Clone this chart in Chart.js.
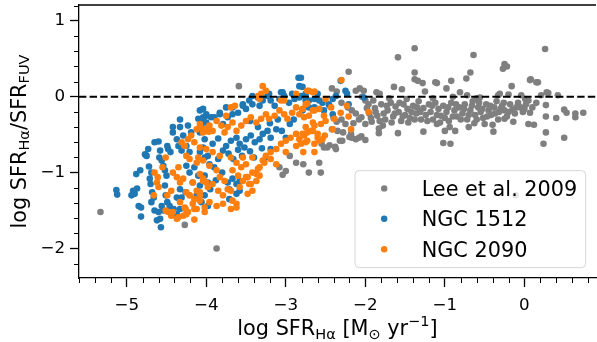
<!DOCTYPE html>
<html><head><meta charset="utf-8">
<script src="https://cdn.jsdelivr.net/npm/chart.js@4/dist/chart.umd.min.js"></script>
<style>
html,body{margin:0;padding:0;overflow:hidden;background:#fff;}
#wrap{position:relative;width:600px;height:342px;}
</style></head><body>
<div id="wrap"><canvas id="c"></canvas></div>
<script>
// ---- data (log SFR_Halpha, log SFR_Halpha/SFR_FUV) ----
const lee09 = [
[-5.33,-1.52],[-4.27,-1.69],[-3.87,-2.0],[-3.59,0.14],
[-3.08,-0.93],[-3.04,-1.03],[-3.0,-0.98],[-2.95,-0.78],[-2.87,-0.87],[-2.78,-0.89],[-2.71,-1.0],[-2.58,-0.87],[-2.56,-1.0],[-2.52,-0.67],[-2.37,-0.69],[-2.29,-0.58],[-2.18,-0.49],
[-1.38,0.64],[-1.59,0.52],[-2.21,0.33],[-0.64,0.55],[0.26,0.63],[-0.25,0.43],[-0.27,0.37],[-0.22,0.40],[-0.68,0.32],[-0.73,0.24],[-1.38,0.32],[-1.38,0.23],[-1.34,0.21],[-1.28,0.18],[-1.12,0.19],[-0.92,0.21],[0.07,0.22],[0.15,0.19],[-0.98,0.11],[-1.10,0.18],[-1.64,0.13],[-2.07,0.11],[-2.02,0.08],[-2.42,0.11],[-2.36,0.07],[-2.12,0.08],[-1.86,0.06],[-1.82,0.04],[-1.54,0.10],[-1.25,0.07],[-0.81,0.06],[-0.72,0.02],[-0.33,0.02],[-0.20,0.03],[0.28,0.06],[-0.16,0.14],[0.08,0.23],[0.17,0.19],[0.21,0.02],[0.30,0.05],[0.42,0.02],[-0.56,-0.01],[-0.31,0.04],[-0.04,0.02],[0.01,-0.03],[-2.04,0.0],[-2.0,-0.05],[-1.96,-0.10],
[-2.45,-0.12],[-2.40,-0.28],[-2.36,-0.33],[-2.30,-0.30],[-2.25,-0.36],[-2.42,-0.43],[-2.35,-0.45],[-2.28,-0.47],[-2.20,-0.53],[-2.12,-0.56],[-2.05,-0.52],[-2.0,-0.57],[-2.55,-0.62],[-2.45,-0.64],[-2.38,-0.66],[-2.48,-0.67],[-2.32,-0.58],
[-2.17,-0.18],[-2.12,-0.22],[-2.08,-0.30],[-2.15,-0.35],[-2.05,-0.27],[-2.0,-0.36],[-1.95,-0.22],[-1.92,-0.33],[-1.88,-0.15],[-1.85,-0.25],[-1.80,-0.10],[-1.78,-0.38],[-1.83,-0.42],[-1.75,-0.30],[-1.72,-0.18],[-1.68,-0.08],[-1.65,-0.26],[-1.62,-0.13],[-1.58,-0.20],[-1.55,-0.32],[-1.52,-0.10],[-1.50,-0.24],[-1.47,-0.16],[-1.44,-0.28],[-1.40,-0.12],[-1.36,-0.22],[-1.33,-0.06],[-1.30,-0.30],[-1.27,-0.15],[-1.24,-0.24],[-1.20,-0.10],[-1.83,-0.48],[-1.59,-0.48],[-1.27,-0.46],[-2.17,-0.54],[-2.08,-0.54],[-1.90,-0.05],[-1.70,-0.02],[-1.48,-0.03],[-2.30,-0.08],[-2.22,-0.14],
[-1.18,-0.20],[-1.15,-0.30],[-1.12,-0.08],[-1.08,-0.16],[-1.05,-0.25],[-1.02,-0.12],[-0.98,-0.20],[-0.95,-0.32],[-0.92,-0.08],[-0.88,-0.18],[-0.85,-0.26],[-0.82,-0.14],[-0.78,-0.22],[-0.75,-0.10],[-0.72,-0.30],[-0.68,-0.18],[-0.65,-0.06],[-0.62,-0.24],[-0.58,-0.14],[-0.55,-0.20],[-0.52,-0.28],[-0.48,-0.10],[-0.45,-0.18],[-0.42,-0.24],[-0.38,-0.14],[-0.35,-0.06],[-0.32,-0.20],[-0.28,-0.12],[-0.25,-0.18],[-0.22,-0.26],[-0.18,-0.10],[-0.15,-0.17],[-0.12,-0.22],[-0.08,-0.08],[-0.05,-0.14],[-0.02,-0.20],[0.02,-0.10],[-0.14,-0.33],[-0.39,-0.46],[-0.50,-0.36],[-0.63,-0.35],[-1.02,-0.61],[-0.93,-0.62],[-0.87,-0.45],[-0.94,-0.40],[-1.0,-0.45],[-1.1,-0.36],[-0.70,-0.40],[-0.33,-0.30],[-0.60,-0.02],[-0.90,0.0],[-1.15,-0.02],
[-1.98,-0.15],[-1.93,-0.28],[-1.87,-0.20],[-1.82,-0.32],[-1.77,-0.22],[-1.73,-0.12],[-1.67,-0.34],[-1.63,-0.22],[-1.57,-0.08],[-1.53,-0.26],[-1.46,-0.34],[-1.42,-0.20],[-1.38,-0.30],[-1.35,-0.14],[-1.31,-0.20],[-1.22,-0.32],[-1.16,-0.12],[-1.10,-0.24],[-1.06,-0.34],[-1.0,-0.28],[-0.96,-0.14],[-0.90,-0.26],[-0.86,-0.10],[-0.80,-0.30],[-0.76,-0.16],[-0.70,-0.24],[-0.66,-0.12],[-0.60,-0.30],[-0.57,-0.08],[-0.53,-0.16],[-0.47,-0.26],[-0.43,-0.12],[-0.37,-0.22],[-0.30,-0.16],[-0.26,-0.08],[-0.20,-0.20],[-0.10,-0.14],[0.0,-0.16],[0.05,-0.05],[0.10,-0.14],
[0.07,-0.21],[0.27,-0.11],[0.50,-0.17],[0.53,-0.21],[0.64,-0.22],[0.74,-0.21],[0.64,-0.27],[0.27,-0.26],[0.40,-0.28],[0.05,-0.36],[0.12,-0.37],[0.27,-0.47],[0.24,-0.62],[0.50,-0.54],[-0.25,-0.29],[-0.40,-0.37],[0.15,-0.08],
[-0.11,-1.30]
];
const ngc1512 = [
[-5.13,-1.23],[-5.12,-1.29],[-4.92,-1.24],[-4.90,-1.28],[-4.94,-1.30],[-4.87,-1.21],[-4.85,-1.44],[-4.82,-1.46],[-4.82,-1.58],[-4.88,-1.02],[-4.83,-0.97],[-4.75,-0.78],[-4.77,-0.76],[-4.73,-0.69],[-4.65,-0.60],[-4.60,-0.59],[-4.72,-0.92],[-4.69,-1.0],[-4.71,-1.08],[-4.70,-1.15],[-4.68,-1.26],[-4.66,-1.33],[-4.69,-1.39],[-4.65,-1.50],[-4.60,-1.52],[-4.58,-1.61],[-4.57,-1.72],[-4.62,-1.63],[-4.58,-0.71],[-4.59,-0.80],[-4.56,-0.84],[-4.54,-0.91],[-4.52,-0.97],[-4.50,-1.04],[-4.49,-0.65],[-4.48,-0.69],[-4.45,-0.73],[-4.52,-1.17],[-4.51,-1.30],[-4.49,-1.39],[-4.56,-1.44],[-4.54,-1.50],[-4.46,-1.44],[-4.41,-1.48],[-4.37,-1.55],[-4.33,-1.48],[-4.42,-0.47],[-4.37,-0.56],[-4.33,-0.40],[-4.29,-0.51],[-4.33,-0.30],[-4.23,-0.38],[-4.19,-0.47],[-4.35,-0.65],[-4.31,-0.71],[-4.25,-0.65],[-4.21,-0.73],[-4.25,-0.91],[-4.21,-1.0],[-4.15,-0.93],[-4.10,-1.04],[-4.17,-1.13],[-4.08,-1.17],[-4.33,-1.22],[-4.37,-1.33],[-4.31,-1.33],[-4.26,-1.26],[-4.08,-0.18],[-4.04,-0.32],[-4.0,-0.25],[-4.08,-0.47],[-4.02,-0.56],[-4.04,-0.67],[-3.98,-0.78],[-4.12,-1.30],[-4.06,-1.39],[-4.02,-1.30],[-3.98,-1.44],[-4.02,-1.04],[-3.98,-1.13],[-4.42,-0.40],
[-4.10,-0.29],[-4.0,-0.23],[-4.04,-0.16],[-3.94,-0.27],[-3.83,-0.23],[-3.75,-0.14],[-3.67,-0.23],[-3.54,-0.12],[-3.50,-0.16],[-3.42,-0.10],[-3.31,0.01],[-3.21,0.04],[-3.06,0.06],[-2.92,0.04],[-2.83,0.14],[-2.84,0.25],[-3.04,0.06],
[-2.79,0.13],[-4.04,-0.27],[-4.0,-0.34],[-4.06,-0.40],[-3.90,-0.27],[-3.83,-0.21],[-3.79,-0.36],[-3.73,-0.27],[-3.67,-0.14],[-3.60,-0.21],[-3.54,-0.10],[-3.46,-0.05],[-3.42,0.01],[-3.35,-0.01],[-3.33,-0.12],[-3.29,-0.05],[-3.23,0.01],[-3.19,-0.05],[-3.14,-0.12],[-3.08,-0.03],[-3.02,0.01],[-2.96,-0.08],[-2.89,-0.03],[-2.83,-0.01],[-2.75,0.04],[-2.71,-0.05],[-2.64,-0.14],
[-4.08,-0.73],[-4.02,-0.80],[-3.96,-0.89],[-3.90,-0.93],[-3.85,-0.82],[-3.79,-0.71],[-3.75,-0.65],[-3.69,-0.58],[-3.62,-0.54],[-3.58,-0.62],[-3.52,-0.67],[-3.50,-0.56],[-3.44,-0.51],[-3.39,-0.60],[-3.33,-0.56],[-3.29,-0.49],[-3.23,-0.45],[-3.19,-0.54],[-3.12,-0.43],
[-3.73,-1.13],[-3.71,-1.22],[-3.67,-1.08],[-3.62,-1.28],[-3.58,-1.24],[-3.58,-1.11],[-3.62,-1.15],[-3.71,-1.35],
[-3.72,-0.75],[-3.66,-0.82],[-3.60,-0.70],[-3.55,-0.78],[-3.45,-0.72],[-3.40,-0.80],[-3.30,-0.68],[-3.25,-0.80],[-3.19,-0.69],[-3.0,-0.54],[-3.05,-0.45],[-2.95,-0.36],[-2.90,-0.30],[-3.10,-0.30],[-3.20,-0.35],[-3.35,-0.40],[-3.45,-0.32],[-3.85,-0.55],[-3.92,-0.62],[-3.80,-1.00],[-3.88,-1.10],[-3.95,-1.22],
[-2.81,0.25],[-2.81,0.01],[-2.75,-0.05],[-2.79,-0.18],[-2.71,-0.14],[-2.64,-0.03],[-2.60,0.04],[-2.58,-0.05],[-2.54,-0.08],[-2.52,-0.18],[-2.46,-0.10],[-2.41,-0.03],[-2.37,0.01],[-2.41,-0.23],[-2.31,0.21],[-2.25,0.08],[-2.23,0.04],[-2.21,-0.10],[-2.02,-0.01]
];
const ngc2090 = [
[-4.66,-1.30],[-4.60,-1.19],[-4.61,-1.06],[-4.55,-0.93],[-4.51,-0.80],[-4.49,-1.30],[-4.44,-1.24],[-4.51,-1.50],[-4.48,-1.52],[-4.44,-1.57],[-4.37,-1.61],[-4.29,-1.57],[-4.26,-1.48],[-4.23,-1.52],[-4.15,-1.62],[-4.12,-1.48],[-4.42,-1.0],[-4.35,-0.93],[-4.37,-1.06],[-4.33,-1.13],[-4.29,-1.08],[-4.25,-1.26],[-4.21,-1.30],[-4.15,-1.35],[-4.17,-1.41],[-4.31,-0.60],[-4.27,-0.65],[-4.23,-0.56],[-4.19,-0.51],[-4.15,-0.60],[-4.12,-0.43],[-4.08,-0.40],[-4.04,-0.47],[-4.0,-0.43],[-3.97,-0.46],[-4.25,-0.78],[-4.21,-0.82],[-4.10,-0.80],[-4.12,-0.87],[-4.04,-1.08],[-4.0,-1.13],[-4.08,-1.26],[-4.33,-1.39],[-4.27,-1.46],[-4.65,-1.0],[-4.62,-1.13],
[-4.08,-0.36],[-4.02,-0.43],[-3.96,-0.38],[-3.92,-0.45],[-3.87,-0.32],[-3.81,-0.38],[-3.77,-0.47],[-3.73,-0.40],[-3.67,-0.34],[-3.62,-0.45],[-3.56,-0.38],[-3.50,-0.32],[-3.44,-0.27],[-3.37,-0.34],[-3.31,-0.29],[-3.25,-0.23],[-3.21,-0.29],[-3.14,-0.25],[-3.08,-0.18],[-3.02,-0.23],[-2.98,-0.29],[-2.92,-0.21],[-2.87,-0.14],[-2.83,-0.23],[-2.79,-0.16],[-2.75,-0.10],[-2.66,-0.18],[-3.35,0.01],[-3.31,0.04],[-3.25,0.08],[-3.29,0.14],[-3.02,-0.05],[-2.87,0.04],[-2.71,0.08],[-3.64,-0.12],[-3.33,-0.03],[-3.06,-0.05],[-2.73,0.08],[-2.66,0.06],[-2.50,-0.03],[-3.69,-0.14],[-3.75,-0.25],
[-4.08,-0.67],[-4.0,-0.69],[-3.92,-0.73],[-3.83,-0.78],[-4.04,-0.84],[-3.96,-0.91],[-3.87,-0.97],[-4.08,-1.02],
[-3.69,-0.80],[-3.62,-0.87],[-3.56,-0.93],[-3.50,-0.89],[-3.67,-0.97],[-3.60,-1.04],[-3.54,-1.11],[-3.48,-1.06],[-3.42,-1.0],[-3.44,-1.15],[-3.37,-1.11],[-3.33,-1.04],[-3.35,-0.95],[-3.29,-0.84],[-3.25,-0.78],[-3.19,-0.73],[-3.12,-0.69],[-3.06,-0.62],[-3.0,-0.58],[-2.94,-0.54],[-2.87,-0.49],[-2.83,-0.56],[-2.77,-0.51],[-2.73,-0.47],[-2.66,-0.45],[-2.64,-0.38],[-2.60,-0.54],
[-3.50,-1.06],[-3.46,-1.15],[-3.42,-1.24],[-3.48,-1.28],[-3.58,-1.19],[-3.69,-1.24],[-3.79,-1.41],[-3.62,-1.41],[-3.27,-0.87],[-3.19,-0.82],[-3.12,-0.89],[-3.0,-0.73],[-2.87,-0.65],[-2.75,-0.60],[-3.33,-0.93],[-3.37,-1.02],[-3.42,-0.80],[-3.54,-0.80],
[-4.17,-1.13],[-4.12,-1.24],[-4.21,-1.30],[-4.08,-1.37],[-4.02,-1.52],[-4.15,-1.48],[-4.25,-1.55],[-4.35,-1.59],[-4.42,-1.52],
[-4.04,-1.11],[-3.98,-1.19],[-3.92,-1.15],[-3.85,-1.24],[-3.79,-1.30],[-3.73,-1.22],[-3.83,-1.06],[-3.77,-1.11],[-4.08,-1.30],[-3.96,-1.39],[-3.87,-1.44],[-4.02,-1.46],[-3.67,-1.37],[-3.62,-1.46],[-3.69,-1.48],
[-2.64,0.07],[-2.73,-0.09],[-2.77,-0.27],[-2.71,-0.25],[-2.64,-0.18],[-2.58,-0.16],[-2.52,-0.25],[-2.50,-0.32],[-2.56,-0.36],[-2.66,-0.34],[-2.75,-0.40],[-2.79,-0.49],[-2.68,-0.45],[-2.60,-0.49],[-2.54,-0.56],[-2.73,-0.58],[-2.64,-0.62],[-2.58,-0.58],[-2.81,-0.62],[-2.78,-0.73],[-2.64,-0.73],[-2.39,-0.29],[-2.41,-0.43],[-2.31,-0.21],[-2.23,-0.12],[-2.21,-0.26],[-2.18,-0.43],[-1.96,-0.20],[-2.30,0.22],[-2.51,-0.51],[-2.43,-0.14]
];
const seriesNames = ['Lee et al. 2009', 'NGC 1512', 'NGC 2090'];
const xMajorTicks = [-5, -4, -3, -2, -1, 0];
const yMajorTicks = [-2, -1, 0, 1];
const xRange = [-5.6, 0.9];
const yRange = [-2.39, 1.21];
const refLevel = 0;

const COLORS = ['#7f7f7f', '#1f77b4', '#ff7f0e'];
const FONT = 'DejaVu Sans';
const fmt = v => (v < 0 ? '\u2212' : '') + Math.abs(v);
const toXY = arr => arr.map(p => ({x: p[0], y: p[1]}));

function richWidth(ctx, segs, size) {
  let w = 0;
  for (const [t, m] of segs) { ctx.font = (m ? size * 0.7 : size) + 'px "' + FONT + '"'; w += ctx.measureText(t).width; }
  return w;
}
function drawRich(ctx, segs, x, y, size) {
  let cx = x;
  for (const [t, m] of segs) {
    const s = m ? size * 0.7 : size;
    ctx.font = s + 'px "' + FONT + '"';
    const dy = m === -1 ? size * 0.17 : (m === 1 ? -size * 0.42 : 0);
    ctx.fillText(t, cx, y + dy);
    cx += ctx.measureText(t).width;
  }
}
const xTitle = [['log SFR', 0], ['H\u03b1', -1], [' [M', 0], ['\u2299', -1], [' yr', 0], ['\u22121', 1], [']', 0]];
const yTitle = [['log SFR', 0], ['H\u03b1', -1], ['/SFR', 0], ['FUV', -1]];

const decor = {
  id: 'decor',
  afterDraw(chart) {
    const {ctx, chartArea: a, scales: {x, y}} = chart;
    ctx.save();
    ctx.strokeStyle = '#000';
    ctx.lineWidth = 1.3;
    ctx.beginPath(); ctx.moveTo(a.left - 0.6, a.top); ctx.lineTo(a.right, a.top); ctx.stroke();
    ctx.lineWidth = 1.0;
    ctx.beginPath();
    for (let k = Math.ceil(x.min / 0.2 - 1e-9); k <= Math.floor(x.max / 0.2 + 1e-9); k++) {
      const v = k * 0.2; if (Math.abs(v - Math.round(v)) < 1e-6) continue;
      const px = Math.round(x.getPixelForValue(v)) + 0.5;
      ctx.moveTo(px, a.bottom); ctx.lineTo(px, a.bottom + 5);
    }
    for (let k = Math.ceil(y.min / 0.2 - 1e-9); k <= Math.floor(y.max / 0.2 + 1e-9); k++) {
      const v = k * 0.2; if (Math.abs(v - Math.round(v)) < 1e-6) continue;
      const py = Math.round(y.getPixelForValue(v)) + 0.5;
      ctx.moveTo(a.left, py); ctx.lineTo(a.left - 5, py);
    }
    ctx.stroke();

    ctx.fillStyle = '#000';
    ctx.textBaseline = 'alphabetic';
    ctx.textAlign = 'left';
    const ts = 20.8;
    const wx = richWidth(ctx, xTitle, ts);
    drawRich(ctx, xTitle, (a.left + a.right) / 2 - wx / 2, 335, ts);
    const wy = richWidth(ctx, yTitle, ts);
    ctx.save();
    ctx.translate(25.5, (a.top + a.bottom) / 2);
    ctx.rotate(-Math.PI / 2);
    drawRich(ctx, yTitle, -wy / 2, 0, ts);
    ctx.restore();

    const fs = 20.8;
    ctx.font = fs + 'px "' + FONT + '"';
    let tw = 0; seriesNames.forEach(n => tw = Math.max(tw, ctx.measureText(n).width));
    const pad = 0.4 * fs, handle = 2 * fs, gap = 0.8 * fs;
    const bw = pad + handle + gap + tw + pad;
    const bh = 97;
    const bx = a.right - 0.5 * fs - bw, by = a.bottom - 0.5 * fs - bh;
    const r = 4;
    ctx.beginPath();
    ctx.moveTo(bx + r, by); ctx.lineTo(bx + bw - r, by); ctx.arcTo(bx + bw, by, bx + bw, by + r, r);
    ctx.lineTo(bx + bw, by + bh - r); ctx.arcTo(bx + bw, by + bh, bx + bw - r, by + bh, r);
    ctx.lineTo(bx + r, by + bh); ctx.arcTo(bx, by + bh, bx, by + bh - r, r);
    ctx.lineTo(bx, by + r); ctx.arcTo(bx, by, bx + r, by, r); ctx.closePath();
    ctx.fillStyle = 'rgba(255,255,255,0.8)'; ctx.fill();
    ctx.strokeStyle = 'rgba(204,204,204,0.8)'; ctx.lineWidth = 1; ctx.stroke();
    seriesNames.forEach((n, i) => {
      const base = by + 25.3 + i * 30.4;
      ctx.fillStyle = COLORS[i];
      ctx.beginPath(); ctx.arc(bx + pad + handle / 2, base - 7.5, 3.2, 0, Math.PI * 2); ctx.fill();
      ctx.fillStyle = '#000';
      ctx.font = fs + 'px "' + FONT + '"';
      ctx.fillText(n, bx + pad + handle + gap, base);
    });
    ctx.restore();
  }
};

const zeroPad = s => { s.paddingTop = 0; s.paddingBottom = 0; s.paddingLeft = 0; s.paddingRight = 0; };
const tickFont = {family: FONT, size: 16.7};
new Chart(document.getElementById('c'), {
  type: 'scatter',
  data: {
    datasets: [
      {type: 'line', data: [{x: xRange[0], y: refLevel}, {x: xRange[1], y: refLevel}], borderColor: '#000', borderWidth: 2.1, borderDash: [7.4, 3.2], pointRadius: 0, fill: false, order: 0},
      {data: toXY(ngc2090), backgroundColor: COLORS[2], pointRadius: 3.3, borderWidth: 0, order: 1},
      {data: toXY(ngc1512), backgroundColor: COLORS[1], pointRadius: 3.3, borderWidth: 0, order: 2},
      {data: toXY(lee09), backgroundColor: COLORS[0], pointRadius: 3.3, borderWidth: 0, order: 3}
    ]
  },
  options: {
    responsive: true, maintainAspectRatio: false, animation: false, devicePixelRatio: 1, events: [],
    layout: {padding: {top: 5, right: 2, left: 0, bottom: 0}},
    plugins: {legend: {display: false}, tooltip: {enabled: false}},
    scales: {
      x: {
        type: 'linear', position: 'bottom', min: xRange[0], max: xRange[1],
        afterBuildTicks: s => { s.ticks = xMajorTicks.map(v => ({value: v})); },
        afterFit: s => { s.height = 64; zeroPad(s); },
        ticks: {font: tickFont, color: '#000', padding: 9, maxRotation: 0, autoSkip: false, callback: v => fmt(v)},
        grid: {display: true, drawOnChartArea: false, drawTicks: true, tickLength: 9, tickColor: '#000', tickWidth: 1.3},
        border: {display: true, color: '#000', width: 1.3}
      },
      y: {
        type: 'linear', position: 'left', min: yRange[0], max: yRange[1],
        afterBuildTicks: s => { s.ticks = yMajorTicks.map(v => ({value: v})); },
        afterFit: s => { s.width = 79; zeroPad(s); },
        ticks: {font: tickFont, color: '#000', padding: 5, autoSkip: false, callback: v => fmt(v)},
        grid: {display: true, drawOnChartArea: false, drawTicks: true, tickLength: 9, tickColor: '#000', tickWidth: 1.3},
        border: {display: true, color: '#000', width: 1.3}
      }
    }
  },
  plugins: [decor]
});
</script>
</body></html>
